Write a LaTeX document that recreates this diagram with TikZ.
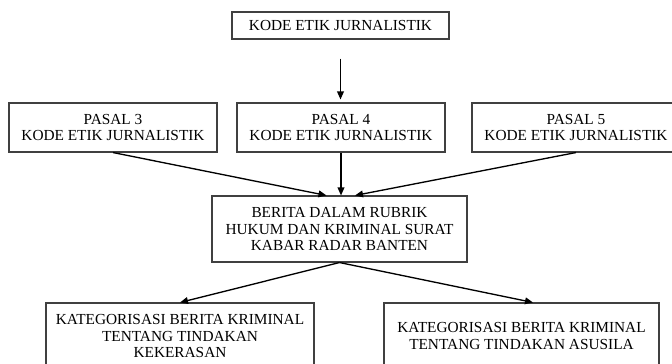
\documentclass[tikz,border=0pt]{standalone}
\usepackage{fontspec}
\setmainfont{Liberation Serif}
\usetikzlibrary{calc,arrows.meta}
\newdimen\pxu
\pxu=0.75pt

\begin{document}
\begin{tikzpicture}[x=0.75pt,y=-0.75pt,
  box/.style={draw=black!75,line width=0.8pt,align=center,inner sep=0pt,
    font=\fontsize{11.5}{12.5}\selectfont},
  arr/.style={-{Triangle[length=6pt,width=5pt]},line width=1pt}]
  \useasboundingbox (0,0) rectangle (672,364);
  \node[box,minimum width=217\pxu,minimum height=27\pxu] (kej) at (340.5,25.5) {KODE ETIK JURNALISTIK};
  \node[box,minimum width=208\pxu,minimum height=49\pxu] (p3) at (113,127.5) {PASAL 3\\KODE ETIK JURNALISTIK};
  \node[box,minimum width=208\pxu,minimum height=49\pxu] (p4) at (341,127.5) {PASAL 4\\KODE ETIK JURNALISTIK};
  \node[box,minimum width=208\pxu,minimum height=49\pxu] (p5) at (576,127.5) {PASAL 5\\KODE ETIK JURNALISTIK};
  \node[box,minimum width=255\pxu,minimum height=66\pxu] (berita) at (339.5,229) {BERITA DALAM RUBRIK\\HUKUM DAN KRIMINAL SURAT\\KABAR RADAR BANTEN};
  \node[box,minimum width=268\pxu,minimum height=66\pxu] (keras) at (180,336) {KATEGORISASI BERITA KRIMINAL\\TENTANG TINDAKAN\\KEKERASAN};
  \node[box,minimum width=275\pxu,minimum height=66\pxu] (susila) at (521.5,336) {KATEGORISASI BERITA KRIMINAL\\TENTANG TINDAKAN ASUSILA};
  \draw[arr,shorten <=19\pxu,shorten >=3\pxu] (kej.south) -- (kej.south |- p4.north);
  \draw[arr] (p3.south) -- ($(berita.north)+(-13,0)$);
  \draw[arr] (p4.south) -- (p4.south |- berita.north);
  \draw[arr] (p5.south) -- ($(berita.north)+(15.5,0)$);
  \draw[arr] (berita.south) -- (keras.north);
  \draw[arr] (berita.south) -- ($(susila.north)+(11.5,0)$);
\end{tikzpicture}
\end{document}
